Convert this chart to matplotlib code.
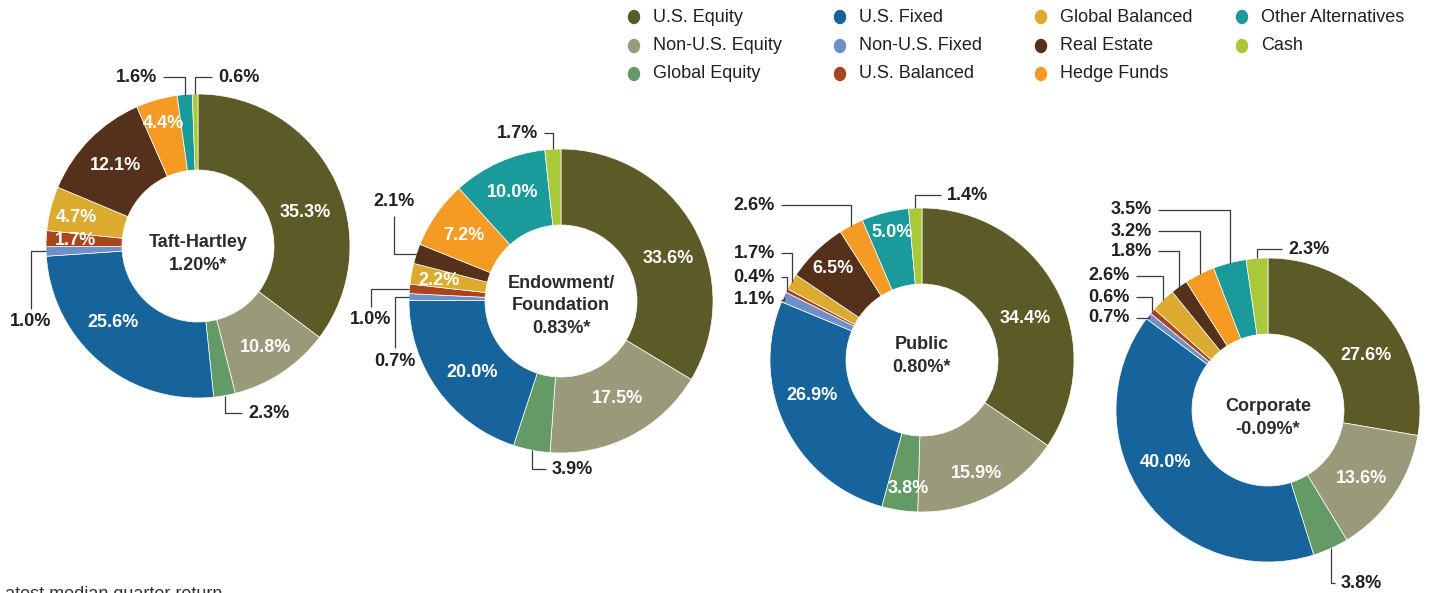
import matplotlib
matplotlib.use('Agg')
import matplotlib.pyplot as plt
from matplotlib.patches import Ellipse
import numpy as np

plt.rcParams['font.family'] = ['Liberation Sans', 'DejaVu Sans']

# asset classes, clockwise from 12 o'clock
categories = ['U.S. Equity', 'Non-U.S. Equity', 'Global Equity', 'U.S. Fixed',
              'Non-U.S. Fixed', 'U.S. Balanced', 'Global Balanced', 'Real Estate',
              'Hedge Funds', 'Other Alternatives', 'Cash']
colors = ['#5c5a27', '#9a9a7b', '#639a66', '#16649b', '#6e8fc8', '#a8451f',
          '#dbaa2f', '#55301a', '#f59a23', '#1a9a9b', '#a9c83a']

taft_hartley = [35.3, 10.8, 2.3, 25.6, 1.0, 1.7, 4.7, 12.1, 4.4, 1.6, 0.6]
endowment = [33.6, 17.5, 3.9, 20.0, 0.7, 1.0, 2.2, 2.1, 7.2, 10.0, 1.7]
public = [34.4, 15.9, 3.8, 26.9, 1.1, 0.4, 1.7, 6.5, 2.6, 5.0, 1.4]
corporate = [27.6, 13.6, 3.8, 40.0, 0.7, 0.6, 2.6, 1.8, 3.2, 3.5, 2.3]

titles = ['Taft-Hartley\n1.20%*', 'Endowment/\nFoundation\n0.83%*',
          'Public\n0.80%*', 'Corporate\n-0.09%*']
footnote = '*Latest median quarter return'

# ---- layout (pixels, y measured from the top) ----
W, H = 1429, 593
R = 152
centres = [(198, 246), (561, 301), (922, 360), (1268, 410)]
title_shift = [8, 5, -4, 8]

# white labels on the ring: idx -> (angle shift, radius fraction)
inside = [
    {0: (-9, 0.74), 1: (0, 0.8), 3: (-8, 0.75), 5: (0, 0.81), 6: (1, 0.82), 7: (0, 0.76), 8: (0, 0.835)},
    {0: (-8, 0.76), 1: (3, 0.74), 3: (3, 0.75), 6: (1, 0.815), 8: (1, 0.77), 9: (0, 0.78)},
    {0: (-6, 0.73), 1: (-1.5, 0.83), 2: (2.5, 0.85), 3: (-8, 0.76), 7: (0, 0.84), 9: (-1, 0.86)},
    {0: (-11, 0.74), 1: (-2, 0.76), 3: (-8, 0.76)},
]
# dark labels outside with elbow leaders: (idx, text x, text y, ha, style)
outside = [
    [(9, 157, 77, 'right', 'v'), (10, 218, 77, 'left', 'v'),
     (4, 31, 322, 'center', 'h'), (2, 248, 413, 'left', 'v')],
    [(10, 538, 133, 'right', 'v'), (7, 394, 201, 'center', 'h'),
     (5, 371, 320, 'center', 'h'), (4, 395, 361, 'center', 'h'),
     (2, 552, 469, 'left', 'v')],
    [(10, 947, 195, 'left', 'v'), (8, 775, 205, 'right', 'v'),
     (6, 775, 253, 'right', 'v'), (5, 775, 277, 'right', 'v'),
     (4, 775, 300, 'right', 'v')],
    [(10, 1288, 249, 'left', 'v'), (9, 1152, 210, 'right', 'v'),
     (8, 1152, 231, 'right', 'v'), (7, 1152, 251, 'right', 'v'),
     (6, 1130, 276, 'right', 'v'), (5, 1130, 297, 'right', 'v'),
     (4, 1130, 318, 'right', 'v'), (2, 1341, 583, 'left', 'v')],
]

leg_x = [634, 840, 1041, 1242]
leg_y = [17, 46, 74]

dark = '#231f20'
fs = 13

fig = plt.figure(figsize=(W / 100, H / 100), dpi=100)
ax = fig.add_axes([0, 0, 1, 1])

all_data = [taft_hartley, endowment, public, corporate]
for k, vals in enumerate(all_data):
    cx, cy = centres[k]
    wedges, _ = ax.pie(vals, colors=colors, radius=R, center=(cx, H - cy),
                       startangle=90, counterclock=False,
                       wedgeprops=dict(width=R / 2, edgecolor='white', linewidth=0.5))
    mids = [(w.theta1 + w.theta2) / 2 for w in wedges]

    for i, (dth, rf) in inside[k].items():
        a = np.radians(mids[i] + dth)
        ax.text(cx + rf * R * np.cos(a), H - cy + rf * R * np.sin(a),
                f'{vals[i]:.1f}%', color='white', fontsize=fs, fontweight='bold',
                ha='center', va='center')

    for i, tx, ty, ha, style in outside[k]:
        a = np.radians(mids[i])
        ax_, ay = cx + R * np.cos(a), cy - R * np.sin(a)
        if style == 'v':
            end = tx - 6 if ha == 'left' else tx + 6
            xs, ys = [ax_, ax_, end], [ay, ty, ty]
        else:
            end = ty - 13 if ty > ay else ty + 15
            xs, ys = [ax_, tx, tx], [ay, ay, end]
        ax.plot(xs, [H - y for y in ys], color='#3a3a3a', lw=0.9, solid_capstyle='butt')
        ax.text(tx, H - ty, f'{vals[i]:.1f}%', color=dark, fontsize=fs,
                fontweight='bold', ha=ha, va='center')

    ax.text(cx, H - cy - title_shift[k], titles[k], color='#2b2b2b', fontsize=fs,
            fontweight='bold', ha='center', va='center', linespacing=1.4)

# legend
for i, cat in enumerate(categories):
    col, row = i // 3, i % 3
    ax.add_patch(Ellipse((leg_x[col], H - leg_y[row]), 11, 13, color=colors[i]))
    ax.text(leg_x[col] + 19, H - leg_y[row], cat, color=dark, fontsize=fs,
            ha='left', va='center')

# footnote sits partly below the bottom edge, as in the source
ax.text(-12, H - 586, footnote, color='#333333', fontsize=fs, ha='left', va='top')

ax.set_xlim(0, W)
ax.set_ylim(0, H)
ax.set_aspect('equal')
ax.axis('off')

fig.savefig('out.png', dpi=100)
